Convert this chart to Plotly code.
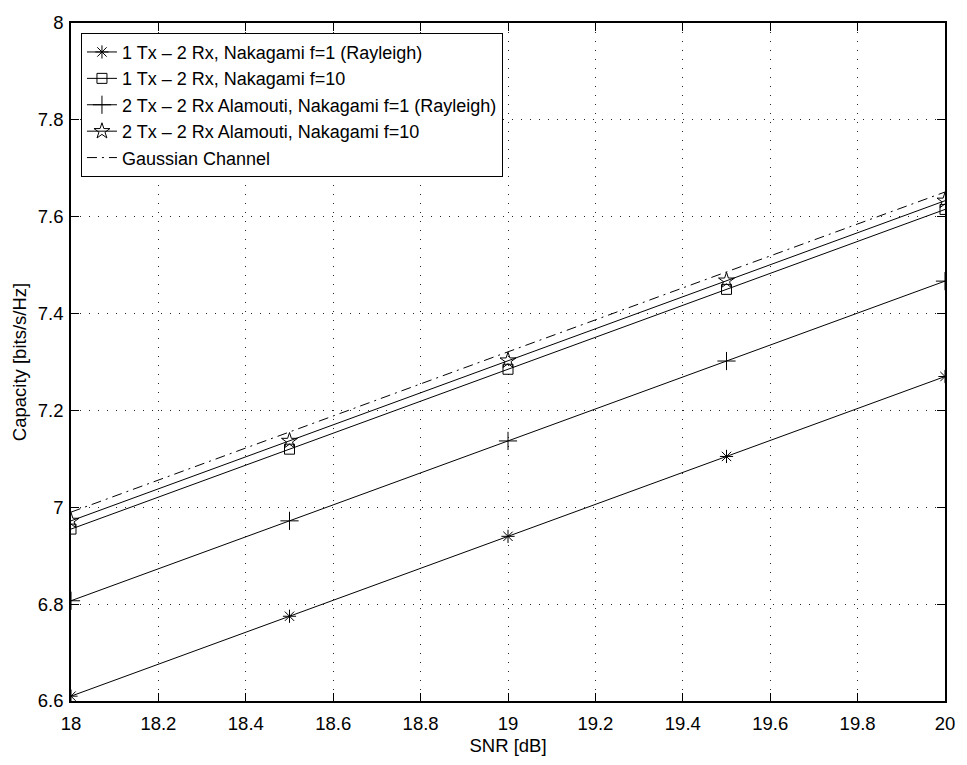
import plotly.graph_objects as go

snr = [18, 18.5, 19, 19.5, 20]
cap_1x2_f1 = [6.610, 6.775, 6.940, 7.105, 7.270]
cap_1x2_f10 = [6.955, 7.120, 7.285, 7.450, 7.615]
cap_2x2_f1 = [6.807, 6.972, 7.137, 7.302, 7.467]
cap_2x2_f10 = [6.972, 7.137, 7.303, 7.468, 7.633]
cap_gauss = [6.990, 7.156, 7.321, 7.486, 7.651]

names = [
    "1 Tx \u2013 2 Rx, Nakagami f=1 (Rayleigh)",
    "1 Tx \u2013 2 Rx, Nakagami f=10",
    "2 Tx \u2013 2 Rx Alamouti, Nakagami f=1 (Rayleigh)",
    "2 Tx \u2013 2 Rx Alamouti, Nakagami f=10",
    "Gaussian Channel",
]
x_ticks = [18.0, 18.2, 18.4, 18.6, 18.8, 19.0, 19.2, 19.4, 19.6, 19.8, 20.0]
x_ticklabels = ["18", "18.2", "18.4", "18.6", "18.8", "19", "19.2", "19.4", "19.6", "19.8", "20"]
y_ticks = [6.6, 6.8, 7.0, 7.2, 7.4, 7.6, 7.8, 8.0]
y_ticklabels = ["6.6", "6.8", "7", "7.2", "7.4", "7.6", "7.8", "8"]

series = [cap_1x2_f1, cap_1x2_f10, cap_2x2_f1, cap_2x2_f10, cap_gauss]
symbols = ["asterisk-open", "square-open", "cross-thin-open", "star-open", None]
sizes = [11, 10, 13, 12, 0]

fig = go.Figure()
for name, ys, sym, sz in zip(names, series, symbols, sizes):
    if sym is None:
        fig.add_trace(go.Scatter(x=snr, y=ys, name=name, mode="lines",
                                 line=dict(color="black", width=1, dash="10px,5px,2px,5px")))
    else:
        fig.add_trace(go.Scatter(x=snr, y=ys, name=name, mode="lines+markers",
                                 line=dict(color="black", width=1),
                                 marker=dict(symbol=sym, size=sz, color="black",
                                             line=dict(color="black", width=1))))

FAM = "Liberation Sans, Arial, Helvetica, sans-serif"
font = dict(family=FAM, size=18.5, color="black")
axis_common = dict(
    showline=True, linecolor="black", linewidth=1.5, mirror="ticks",
    ticks="inside", ticklen=8, tickcolor="black", tickwidth=1,
    showgrid=True, gridcolor="rgba(0,0,0,0.85)", griddash="1px,8px", gridwidth=1,
    zeroline=False, tickfont=font,
)
fig.update_xaxes(range=[18, 20], tickvals=x_ticks, ticktext=x_ticklabels,
                 ticklabelstandoff=5,
                 title=dict(text="SNR [dB]", font=font, standoff=6), **axis_common)
fig.update_yaxes(range=[6.6, 8], tickvals=y_ticks, ticktext=y_ticklabels,
                 ticklabelstandoff=2,
                 title=dict(text="Capacity [bits/s/Hz]", font=font, standoff=6), **axis_common)

fig.update_layout(
    width=967, height=765,
    margin=dict(l=71, r=18, t=12, b=58),
    plot_bgcolor="white", paper_bgcolor="white",
    font=font,
    legend=dict(x=0.0114, y=0.9856, xanchor="left", yanchor="top",
                bgcolor="white", bordercolor="black", borderwidth=1,
                font=dict(family=FAM, size=18, color="black"),
                tracegroupgap=0, itemwidth=30),
    showlegend=True,
)
fig.write_html("out.html")
